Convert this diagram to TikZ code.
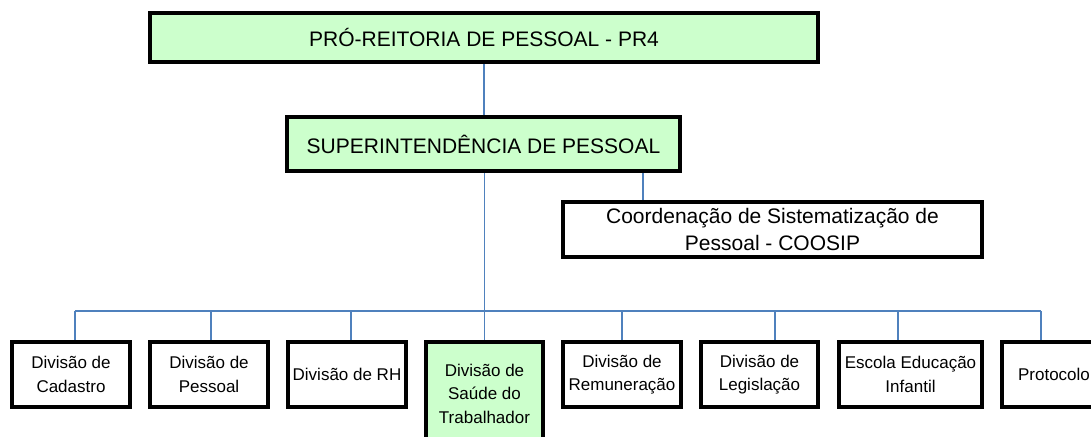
\documentclass[tikz,border=0pt]{standalone}
\usepackage{fontspec}
\setmainfont{Liberation Sans}
\usetikzlibrary{backgrounds}
\definecolor{linkblue}{RGB}{79,129,189}
\definecolor{boxgreen}{RGB}{204,255,204}
\begin{document}
\begin{tikzpicture}[x=1pt,y=-1pt,
  box/.style={draw,line width=3.4pt,fill=white,align=center,inner sep=0pt},
  bigbox/.style={box,font=\fontsize{21}{27}\selectfont},
  smallbox/.style={box,font=\fontsize{17}{23.5}\selectfont,minimum width=118pt,minimum height=65pt},
  link/.style={draw=linkblue,line width=1.8pt}]
\useasboundingbox(0,0) rectangle (1091,436);
\node[bigbox,fill=boxgreen,minimum width=668pt,minimum height=49pt](pr4) at (484,37.5){PRÓ-REITORIA DE PESSOAL - PR4};
\node[bigbox,fill=boxgreen,minimum width=393pt,minimum height=54pt](super) at (483.5,144){SUPERINTENDÊNCIA DE PESSOAL};
\node[bigbox,minimum width=419pt,minimum height=55pt](coosip) at (772.5,229.5){Coordenação de Sistematização de\\Pessoal - COOSIP};
\node[smallbox](cadastro) at (71,374.5){Divisão de\\Cadastro};
\node[smallbox](pessoal) at (209,374.5){Divisão de\\Pessoal};
\node[smallbox](rh) at (347,374.5){Divisão de RH};
\node[smallbox,fill=boxgreen,minimum width=117pt,minimum height=103pt](saude) at (484.5,393.5){Divisão de\\Saúde do\\Trabalhador};
\node[smallbox](remun) at (622,374.5){Divisão de\\Remuneração};
\node[smallbox,minimum width=117pt](legis) at (759.5,374.5){Divisão de\\Legislação};
\node[smallbox,minimum width=143pt](escola) at (910.5,374.5){Escola Educação\\Infantil};
\node[smallbox,minimum width=104pt](protocolo) at (1054,374.5){Protocolo};
\coordinate(bus) at (0,311);
\begin{scope}[on background layer]
\draw[link](pr4.south)--(pr4.south|-super.north);
\draw[link]([xshift=1pt]super.south)--([xshift=1pt]super.south|-saude.north);
\draw[link]([xshift=-39pt]super.south east)--([xshift=-39pt]super.south east|-coosip.north);
\draw[link]([xshift=4pt]cadastro.north|-bus)--([xshift=-13pt]protocolo.north|-bus);
\foreach \n/\dx in {cadastro/4,pessoal/2,rh/4,remun/0,legis/15.5,escola/-12.5,protocolo/-13}
  \draw[link]([xshift=\dx pt]\n.north)--([xshift=\dx pt]\n.north|-bus);
\end{scope}
\end{tikzpicture}
\end{document}
